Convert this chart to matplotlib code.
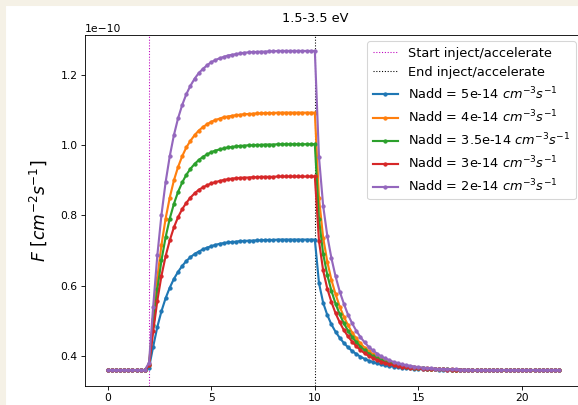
import numpy as np
import matplotlib
matplotlib.use("Agg")
import matplotlib.pyplot as plt
from matplotlib.patches import Rectangle

# time grid (step 0.2)
t = np.round(np.arange(110) * 0.2, 1)

t_start = 2.0
t_end = 10.0

labels = ['Nadd = 5e-14 $cm^{-3}s^{-1}$',
          'Nadd = 4e-14 $cm^{-3}s^{-1}$',
          'Nadd = 3.5e-14 $cm^{-3}s^{-1}$',
          'Nadd = 3e-14 $cm^{-3}s^{-1}$',
          'Nadd = 2e-14 $cm^{-3}s^{-1}$']

# values in units of 1e-10
pre = [0.359, 0.359, 0.359, 0.359, 0.359, 0.359, 0.359, 0.359, 0.359, 0.359]

F_5e14 = pre + [
    0.366, 0.426, 0.482, 0.527, 0.564, 0.594, 0.619, 0.639, 0.656, 0.670,
    0.681, 0.690, 0.697, 0.703, 0.708, 0.712, 0.716, 0.719, 0.721, 0.723,
    0.724, 0.725, 0.727, 0.727, 0.728, 0.728, 0.729, 0.729, 0.730, 0.730,
    0.730, 0.731, 0.731, 0.731, 0.731, 0.731, 0.731, 0.731, 0.731, 0.731,
    0.731,
    0.607, 0.551, 0.516, 0.489, 0.468, 0.451, 0.436, 0.424, 0.413, 0.405,
    0.397, 0.391, 0.386, 0.382, 0.378, 0.375, 0.372, 0.370, 0.369, 0.367,
    0.366, 0.365, 0.364, 0.363, 0.362, 0.362, 0.361, 0.361, 0.361, 0.360,
    0.360, 0.360, 0.359, 0.359, 0.359,
    0.359, 0.359, 0.359, 0.359, 0.359, 0.359, 0.359, 0.359, 0.359, 0.359,
    0.359, 0.359, 0.359, 0.359, 0.359, 0.359, 0.359, 0.359, 0.359, 0.359,
    0.359, 0.359, 0.359, 0.359]

F_4e14 = pre + [
    0.376, 0.505, 0.622, 0.716, 0.791, 0.851, 0.900, 0.938, 0.969, 0.994,
    1.013, 1.029, 1.042, 1.052, 1.060, 1.067, 1.072, 1.076, 1.080, 1.082,
    1.084, 1.086, 1.087, 1.089, 1.089, 1.090, 1.091, 1.091, 1.092, 1.092,
    1.092, 1.093, 1.093, 1.093, 1.093, 1.093, 1.093, 1.093, 1.093, 1.093,
    1.093,
    0.849, 0.737, 0.668, 0.616, 0.575, 0.540, 0.511, 0.487, 0.466, 0.449,
    0.435, 0.423, 0.413, 0.404, 0.397, 0.391, 0.386, 0.381, 0.378, 0.375,
    0.372, 0.370, 0.368, 0.367, 0.366, 0.365, 0.364, 0.363, 0.362, 0.362,
    0.361, 0.361, 0.361, 0.360, 0.360,
    0.359, 0.359, 0.359, 0.359, 0.359, 0.359, 0.359, 0.359, 0.359, 0.359,
    0.359, 0.359, 0.359, 0.359, 0.359, 0.359, 0.359, 0.359, 0.359, 0.359,
    0.359, 0.359, 0.359, 0.359]

F_35e14 = pre + [
    0.374, 0.487, 0.590, 0.672, 0.738, 0.791, 0.833, 0.867, 0.894, 0.916,
    0.933, 0.947, 0.958, 0.967, 0.974, 0.980, 0.985, 0.988, 0.991, 0.994,
    0.995, 0.997, 0.998, 0.999, 1.000, 1.000, 1.001, 1.001, 1.002, 1.002,
    1.002, 1.003, 1.003, 1.003, 1.003, 1.003, 1.003, 1.003, 1.003, 1.003,
    1.003,
    0.789, 0.691, 0.630, 0.585, 0.548, 0.518, 0.492, 0.471, 0.453, 0.438,
    0.426, 0.415, 0.406, 0.398, 0.392, 0.387, 0.382, 0.379, 0.376, 0.373,
    0.371, 0.369, 0.367, 0.366, 0.365, 0.364, 0.363, 0.362, 0.362, 0.361,
    0.361, 0.361, 0.360, 0.360, 0.360,
    0.359, 0.359, 0.359, 0.359, 0.359, 0.359, 0.359, 0.359, 0.359, 0.359,
    0.359, 0.359, 0.359, 0.359, 0.359, 0.359, 0.359, 0.359, 0.359, 0.359,
    0.359, 0.359, 0.359, 0.359]

F_3e14 = pre + [
    0.372, 0.469, 0.557, 0.628, 0.684, 0.729, 0.766, 0.795, 0.818, 0.836,
    0.851, 0.863, 0.873, 0.880, 0.886, 0.891, 0.895, 0.898, 0.901, 0.903,
    0.905, 0.906, 0.907, 0.908, 0.908, 0.909, 0.909, 0.910, 0.910, 0.910,
    0.910, 0.911, 0.911, 0.911, 0.911, 0.911, 0.911, 0.911, 0.911, 0.911,
    0.911,
    0.727, 0.643, 0.591, 0.553, 0.521, 0.495, 0.473, 0.455, 0.440, 0.427,
    0.416, 0.407, 0.399, 0.393, 0.387, 0.383, 0.379, 0.376, 0.373, 0.371,
    0.369, 0.367, 0.366, 0.365, 0.364, 0.363, 0.363, 0.362, 0.361, 0.361,
    0.361, 0.360, 0.360, 0.360, 0.360,
    0.359, 0.359, 0.359, 0.359, 0.359, 0.359, 0.359, 0.359, 0.359, 0.359,
    0.359, 0.359, 0.359, 0.359, 0.359, 0.359, 0.359, 0.359, 0.359, 0.359,
    0.359, 0.359, 0.359, 0.359]

F_2e14 = pre + [
    0.380, 0.540, 0.686, 0.802, 0.895, 0.969, 1.029, 1.077, 1.115, 1.146,
    1.170, 1.190, 1.206, 1.218, 1.228, 1.237, 1.243, 1.248, 1.252, 1.256,
    1.258, 1.260, 1.262, 1.264, 1.265, 1.266, 1.266, 1.267, 1.267, 1.268,
    1.268, 1.269, 1.269, 1.269, 1.269, 1.269, 1.269, 1.269, 1.269, 1.269,
    1.269,
    0.966, 0.828, 0.742, 0.678, 0.626, 0.583, 0.548, 0.517, 0.492, 0.471,
    0.453, 0.438, 0.425, 0.415, 0.406, 0.398, 0.392, 0.387, 0.382, 0.379,
    0.375, 0.373, 0.371, 0.369, 0.367, 0.366, 0.365, 0.364, 0.363, 0.362,
    0.362, 0.361, 0.361, 0.361, 0.360,
    0.360, 0.360, 0.359, 0.359, 0.359, 0.359, 0.359, 0.359, 0.359, 0.359,
    0.359, 0.359, 0.359, 0.359, 0.359, 0.359, 0.359, 0.359, 0.359, 0.359,
    0.359, 0.359, 0.359, 0.359]

series = [F_5e14, F_4e14, F_35e14, F_3e14, F_2e14]

dpi = 77
fig = plt.figure(figsize=(578 / dpi, 405 / dpi), dpi=dpi)

# notebook background strip on the left / top
fig.patches.append(Rectangle((0, 0), 5 / 578, 1, transform=fig.transFigure,
                             color='#f5f1e6', zorder=-1))
fig.patches.append(Rectangle((0, 1 - 5 / 405), 1, 5 / 405, transform=fig.transFigure,
                             color='#f5f1e6', zorder=-1))

ax = fig.add_axes([85 / 578, 19 / 405, 497 / 578, 351 / 405])

ax.axvline(t_start, color='m', ls=':', lw=1, label='Start inject/accelerate')
ax.axvline(t_end, color='k', ls=':', lw=1, label='End inject/accelerate')

for F, lab in zip(series, labels):
    ax.plot(t, np.array(F) * 1e-10, '.-', lw=2, label=lab)

ax.set_xlim(-1.09, 22.89)
ax.set_ylabel(r'$F\ [cm^{-2}s^{-1}]$', fontsize=16, labelpad=11)
ax.legend(loc='upper right', fontsize=12)

fig.text(315 / 578, 1 - 19 / 405, '1.5-3.5 eV', ha='center', va='center', fontsize=12)

fig.savefig('out.png', dpi=dpi)
